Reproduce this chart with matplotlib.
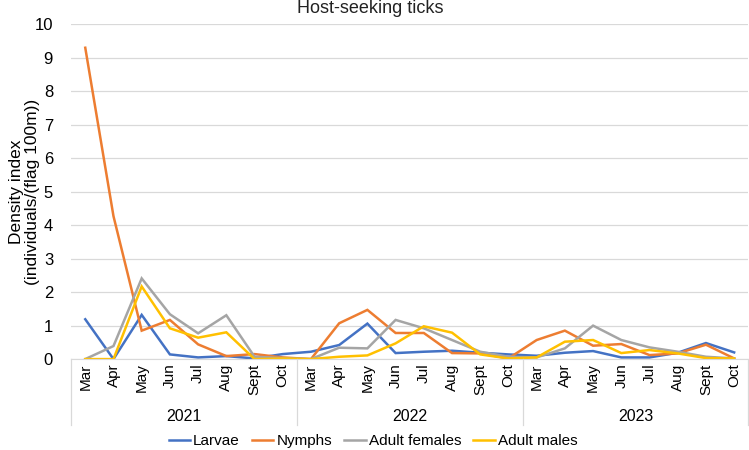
import matplotlib
matplotlib.use("Agg")
import matplotlib.pyplot as plt
import matplotlib.transforms as mtransforms

months = ["Mar", "Apr", "May", "Jun", "Jul", "Aug", "Sept", "Oct"]
years = ["2021", "2022", "2023"]

larvae = [1.19, 0.0, 1.32, 0.14, 0.05, 0.09, 0.02, 0.15,
          0.22, 0.42, 1.06, 0.18, 0.22, 0.25, 0.19, 0.14,
          0.10, 0.19, 0.24, 0.05, 0.05, 0.19, 0.48, 0.20]
nymphs = [9.30, 4.27, 0.85, 1.17, 0.44, 0.09, 0.15, 0.05,
          0.0, 1.07, 1.47, 0.78, 0.78, 0.18, 0.17, 0.02,
          0.57, 0.85, 0.40, 0.45, 0.12, 0.17, 0.43, 0.02]
adult_females = [0.0, 0.39, 2.41, 1.34, 0.77, 1.31, 0.07, 0.03,
                 0.0, 0.34, 0.32, 1.17, 0.92, 0.57, 0.22, 0.07,
                 0.05, 0.32, 1.00, 0.57, 0.35, 0.22, 0.07, 0.02]
adult_males = [0.0, 0.0, 2.17, 0.92, 0.64, 0.80, 0.0, 0.02,
               0.0, 0.07, 0.11, 0.47, 0.98, 0.79, 0.14, 0.02,
               0.05, 0.52, 0.57, 0.18, 0.27, 0.17, 0.03, 0.02]

series = [("Larvae", larvae, "#4472C4"),
          ("Nymphs", nymphs, "#ED7D31"),
          ("Adult females", adult_females, "#A5A5A5"),
          ("Adult males", adult_males, "#FFC000")]

plt.rcParams["font.family"] = ["Liberation Sans", "DejaVu Sans"]

fig = plt.figure(figsize=(7.49, 4.5), dpi=100)
ax = fig.add_axes([0.095, 0.202, 0.904, 0.744])

x = list(range(len(larvae)))
for name, vals, color in series:
    ax.plot(x, vals, color=color, lw=1.8, label=name, solid_joinstyle="miter")

ax.set_xlim(-0.5, len(x) - 0.5)
ax.set_ylim(0, 10)
ax.set_yticks(range(0, 11))
ax.tick_params(axis="y", length=0, labelsize=12, pad=13)
ax.grid(axis="y", color="#d9d9d9", lw=0.9)
ax.set_axisbelow(True)
for s in ["left", "right", "top"]:
    ax.spines[s].set_visible(False)
ax.spines["bottom"].set_color("#d9d9d9")

ax.set_xticks(x)
ax.set_xticklabels(months * len(years), rotation=90, fontsize=11)
ax.tick_params(axis="x", length=0, pad=3)

trans = mtransforms.blended_transform_factory(ax.transData, ax.transAxes)
for i in range(len(years) + 1):
    xs = i * len(months) - 0.5
    ax.plot([xs, xs], [0, -0.196], color="#d9d9d9", lw=0.9,
            transform=trans, clip_on=False)
for i, yr in enumerate(years):
    ax.text(i * len(months) + (len(months) - 1) / 2, -0.172, yr,
            transform=trans, ha="center", va="center", fontsize=11.5)

fig.text(0.494, 0.982, "Host-seeking ticks", ha="center", va="center",
         fontsize=13, color="#222222")
ax.set_ylabel("Density index\n(individuals/(flag 100m))", fontsize=12.5,
              linespacing=1.05)
ax.yaxis.set_label_coords(-0.046, 0.5)

fig.legend(loc="center", bbox_to_anchor=(0.498, 0.02), ncol=4,
           frameon=False, fontsize=11, handlelength=1.4, handletextpad=0.2,
           columnspacing=0.8)

fig.savefig("out.png", dpi=100)
